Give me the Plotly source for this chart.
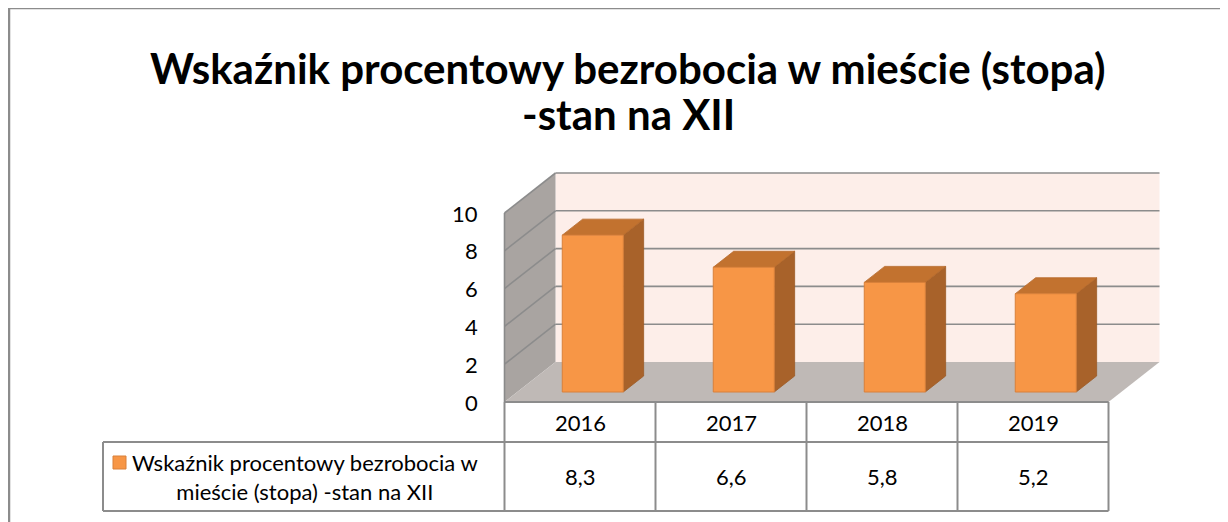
import plotly.graph_objects as go

# ---------------- data ----------------
years = ["2016", "2017", "2018", "2019"]
values = [8.3, 6.6, 5.8, 5.2]
value_labels = ["8,3", "6,6", "5,8", "5,2"]
y_ticks = [0, 2, 4, 6, 8, 10]
series_name = "Wskaźnik procentowy bezrobocia w<br>mieście (stopa) -stan na XII"
title_lines = ["Wskaźnik procentowy bezrobocia w mieście (stopa)", "-stan na XII"]

# ---------------- layout constants (screen pixels) ----------------
OFF = 8              # page body margin
W, H = 1228 - OFF, 522 - OFF
CAT0_PX = 580.0      # screen x of category 0 centre on the front plane
CAT_PX = 151.0       # pixel width of one category
ZERO_PX = 402.0      # screen y of value 0 on the front plane
VAL_PX = 18.9        # pixels per value unit
YMAX = 10
DEPTH_DX_PX, DEPTH_DY_PX = 51.0, 40.0

def px_x(p):
    return (p - CAT0_PX) / CAT_PX

def px_y(p):
    return (ZERO_PX - p) / VAL_PX

def paper_x(p):
    return (p - OFF) / W

def paper_y(p):
    return 1 - (p - OFF) / H

DX = DEPTH_DX_PX / CAT_PX
DY = DEPTH_DY_PX / VAL_PX

def P(i, v, d):
    return (i + d * DX, v + d * DY)

n = len(years)
XL, XR = -0.5, n - 0.5

FONT = "Lato"
FS = 22
GRID = "#8C8C8C"

fig = go.Figure()

def poly(pts, fill, line_color=None, line_width=0):
    xs = [p[0] for p in pts] + [pts[0][0]]
    ys = [p[1] for p in pts] + [pts[0][1]]
    fig.add_trace(go.Scatter(
        x=xs, y=ys, mode="lines", fill="toself", fillcolor=fill,
        line=dict(color=line_color or fill, width=line_width),
        hoverinfo="skip", showlegend=False))

def seg(a, b, color=GRID, width=1.6):
    fig.add_trace(go.Scatter(
        x=[a[0], b[0]], y=[a[1], b[1]], mode="lines",
        line=dict(color=color, width=width),
        hoverinfo="skip", showlegend=False))

# walls
poly([P(XL, 0, 1), P(XR, 0, 1), P(XR, YMAX, 1), P(XL, YMAX, 1)], "#FDEEE9")
poly([P(XL, 0, 0), P(XL, YMAX, 0), P(XL, YMAX, 1), P(XL, 0, 1)], "#A9A4A1")
poly([P(XL, 0, 0), P(XR, 0, 0), P(XR, 0, 1), P(XL, 0, 1)], "#BFB9B6")

# gridlines
for v in y_ticks[1:]:
    seg(P(XL, v, 0), P(XL, v, 1))
    seg(P(XL, v, 1), P(XR, v, 1))
seg(P(XL, 0, 0), P(XL, YMAX, 0), color="#8A8A8A", width=1.6)

# bars
BW = 0.404
D0, D1 = 0.25, 0.65
for i, v in enumerate(values):
    l, r = i - BW / 2, i + BW / 2
    poly([P(r, 0, D0), P(r, 0, D1), P(r, v, D1), P(r, v, D0)], "#A8622A", "#9C5A26", 0.8)
    poly([P(l, v, D0), P(r, v, D0), P(r, v, D1), P(l, v, D1)], "#C2722F", "#B66A2B", 0.8)
    poly([P(l, 0, D0), P(r, 0, D0), P(r, v, D0), P(l, v, D0)], "#F79646", "#D9803A", 1)

# ---------------- data table ----------------
ROW1_BOT = px_y(442)
ROW2_BOT = px_y(511)
LEG_L = px_x(103)
TBL = "#8C8C8C"
TW = 2
seg((XL, 0), (XR, 0), TBL, TW)
for k in range(n + 1):
    seg((XL + k, 0), (XL + k, ROW2_BOT), TBL, TW)
seg((LEG_L, ROW1_BOT), (XR, ROW1_BOT), TBL, TW)
seg((LEG_L, ROW2_BOT), (XR, ROW2_BOT), TBL, TW)
seg((LEG_L, ROW1_BOT), (LEG_L, ROW2_BOT), TBL, TW)

txt = dict(family=FONT, size=FS, color="#000")
annotations = []
for i, (yr, lab) in enumerate(zip(years, value_labels)):
    annotations.append(dict(x=i, y=ROW1_BOT / 2, text=yr, showarrow=False, font=txt))
    annotations.append(dict(x=i, y=(ROW1_BOT + ROW2_BOT) / 2, text=lab, showarrow=False, font=txt))
for v in y_ticks:
    annotations.append(dict(x=px_x(480), y=v, text=str(v), showarrow=False, xanchor="right", font=txt))
annotations.append(dict(x=px_x(305), y=(ROW1_BOT + ROW2_BOT) / 2,
                        text=series_name, showarrow=False, align="center", font=txt))
for k, (line, yc) in enumerate(zip(title_lines, [68, 114])):
    annotations.append(dict(x=paper_x(628), y=paper_y(yc), xref="paper", yref="paper",
                            text="<b>" + line + "</b>", showarrow=False, yanchor="middle",
                            font=dict(family=FONT, size=42, color="#000")))

shapes = [
    dict(type="line", xref="paper", yref="paper", x0=paper_x(9), x1=1.01, y0=paper_y(8), y1=paper_y(8),
         line=dict(color="#8C8C8C", width=2.5)),
    dict(type="line", xref="paper", yref="paper", x0=paper_x(9), x1=paper_x(9), y0=paper_y(8), y1=-0.02,
         line=dict(color="#8C8C8C", width=2.5)),
    dict(type="rect", x0=px_x(113), x1=px_x(126), y0=px_y(469), y1=px_y(456),
         fillcolor="#F79646", line=dict(color="#D9803A", width=1)),
]

fig.update_layout(
    width=W, height=H, autosize=False,
    margin=dict(l=0, r=0, t=0, b=0),
    paper_bgcolor="white", plot_bgcolor="white",
    xaxis=dict(range=[px_x(OFF), px_x(OFF + W)], visible=False, fixedrange=True),
    yaxis=dict(range=[px_y(OFF + H), px_y(OFF)], visible=False, fixedrange=True),
    annotations=annotations, shapes=shapes, showlegend=False,
)

fig.write_html("out.html")
